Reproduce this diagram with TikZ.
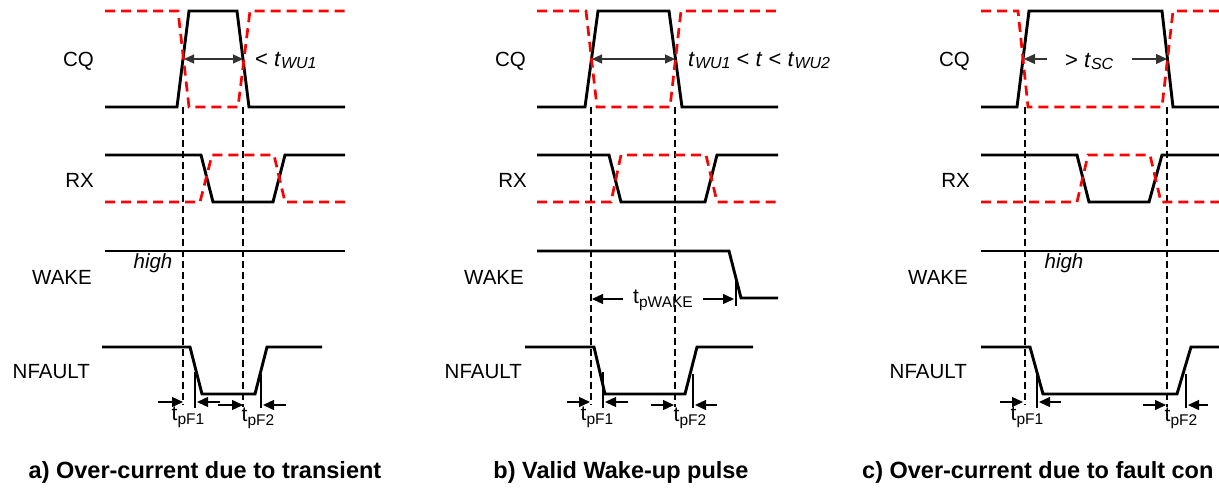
\documentclass[tikz,border=0pt]{standalone}
\usepackage{fontspec}
\setmainfont{Liberation Sans}
\usetikzlibrary{arrows.meta}
\newcommand{\lbfont}{\fontsize{20.5}{22}\selectfont}
\newcommand{\annfont}{\fontsize{22}{24}\selectfont}
\newcommand{\tfont}{\fontsize{21}{23}\selectfont}
\newcommand{\capfont}{\fontsize{23.5}{25}\selectfont\bfseries}
\newcommand{\mysubI}[1]{\raisebox{-2.5pt}{\fontsize{16}{17}\selectfont\itshape #1}}
\newcommand{\mysubT}[1]{\raisebox{-4pt}{\fontsize{15.5}{17}\selectfont #1}}
\begin{document}
\begin{tikzpicture}[x=1pt,y=-1pt,
  sig/.style={line width=2.9pt, black},
  refsig/.style={line width=2.7pt, red, dash pattern=on 10pt off 6pt},
  guide/.style={line width=1.1pt, black, dash pattern=on 7pt off 4pt},
  dim/.style={line width=1.3pt, black, -{Triangle[length=11pt,width=10pt]}},
  dimboth/.style={line width=1.3pt, black!80, {Triangle[length=10pt,width=9pt]}-{Triangle[length=10pt,width=9pt]}},
  tickln/.style={line width=1.1pt, black},
  lbl/.style={anchor=east, inner sep=0pt, font=\lbfont},
  ann/.style={anchor=base west, inner sep=0pt, font=\annfont},
  tlbl/.style={anchor=base, inner sep=0pt, font=\tfont},
  hightxt/.style={anchor=base, inner sep=0pt, font=\lbfont\itshape},
  captxt/.style={anchor=base, inner sep=0pt, font=\capfont}
]
\useasboundingbox (0,0) rectangle (1219,491);

% ================= Panel a =================
\node[lbl] (aCQ) at (94,61) {CQ};
\node[lbl] (aRX) at (94,180) {RX};
\node[lbl] (aWAKE) at (92,277) {WAKE};
\node[lbl] (aNF) at (90,372) {NFAULT};

\draw[guide] (183,107) -- (183,405);
\draw[guide] (243,107) -- (243,407);

\draw[sig] (105,107) -- (177,107) -- (189,11) -- (237,11) -- (249,107) -- (345,107);
\draw[refsig] (105,11) -- (178,11) -- (189,107) -- (238,107) -- (250,11) -- (345,11);
\draw[dimboth] (184,59) -- (243,59);
\node[ann] (aWU) at (255,66) {< \textit{t}\mysubI{WU1}};

\draw[sig] (105,155) -- (201,155) -- (213,202) -- (273,202) -- (285,155) -- (345,155);
\draw[refsig] (105,202) -- (200,202) -- (212,155) -- (274,155) -- (285,202) -- (345,202);

\draw[sig] (105,251) -- (345,251);
\node[hightxt] (ahigh) at (153,268) {high};

\draw[sig] (102,347) -- (190,347) -- (202,394) -- (255,394) -- (267,347) -- (322,347);
\draw[tickln] (195,372) -- (195,408);
\draw[tickln] (261,374) -- (261,408);
\draw[dim] (158,402) -- (183,402);
\draw[dim] (220,402) -- (197,402);
\draw[dim] (218,405) -- (243,405);
\draw[dim] (286,405) -- (263,405);
\node[tlbl] (atF1) at (188,420) {t\mysubT{pF1}};
\node[tlbl] (atF2) at (258,421) {t\mysubT{pF2}};

\node[captxt] (acap) at (205,478) {a) Over-current due to transient};

% ================= Panel b =================
\node[lbl] (bCQ) at (526,61) {CQ};
\node[lbl] (bRX) at (527,180) {RX};
\node[lbl] (bWAKE) at (524,277) {WAKE};
\node[lbl] (bNF) at (522,372) {NFAULT};

\draw[guide] (591,107) -- (591,405);
\draw[guide] (675,107) -- (675,407);

\draw[sig] (537,107) -- (585,107) -- (598,11) -- (669,11) -- (682,107) -- (778,107);
\draw[refsig] (537,11) -- (586,11) -- (597,107) -- (670,107) -- (681,11) -- (778,11);
\draw[dimboth] (592,59) -- (675,59);
\node[ann] (bWU) at (688,66) {\textit{t}\mysubI{WU1} < \textit{t} < \textit{t}\mysubI{WU2}};

\draw[sig] (537,155) -- (609,155) -- (621,202) -- (705,202) -- (717,155) -- (778,155);
\draw[refsig] (537,202) -- (611,202) -- (621,155) -- (706,155) -- (717,202) -- (778,202);

\draw[sig] (537,251) -- (729,251) -- (741,298) -- (778,298);
\draw[tickln] (736,279) -- (736,306);
\draw[dim] (623,299) -- (592,299);
\draw[dim] (703,299) -- (734,299);
\node[tlbl] (btW) at (663,303) {t\mysubT{pWAKE}};

\draw[sig] (525,347) -- (594,347) -- (605,394) -- (685,394) -- (697,347) -- (753,347);
\draw[tickln] (603,372) -- (603,408);
\draw[tickln] (693,374) -- (693,408);
\draw[dim] (567,402) -- (590,402);
\draw[dim] (628,402) -- (605,402);
\draw[dim] (651,405) -- (674,405);
\draw[dim] (717,405) -- (695,405);
\node[tlbl] (btF1) at (597,420) {t\mysubT{pF1}};
\node[tlbl] (btF2) at (690,421) {t\mysubT{pF2}};

\node[captxt] (bcap) at (621,478) {b) Valid Wake-up pulse};

% ================= Panel c =================
\node[lbl] (cCQ) at (970,61) {CQ};
\node[lbl] (cRX) at (970,180) {RX};
\node[lbl] (cWAKE) at (968,277) {WAKE};
\node[lbl] (cNF) at (967,372) {NFAULT};

\draw[guide] (1025,107) -- (1025,405);
\draw[guide] (1167,107) -- (1167,407);

\draw[sig] (981,107) -- (1017,107) -- (1029,11) -- (1162,11) -- (1173,107) -- (1219,107);
\draw[refsig] (981,11) -- (1018,11) -- (1028,107) -- (1162,107) -- (1173,11) -- (1219,11);
\draw[dim, black!80] (1047,59) -- (1024,59);
\draw[dim, black!80] (1132,59) -- (1167,59);
\node[ann] (cSC) at (1065,67) {> \textit{t}\mysubI{SC}};

\draw[sig] (981,155) -- (1077,155) -- (1089,202) -- (1149,202) -- (1162,155) -- (1219,155);
\draw[refsig] (981,202) -- (1077,202) -- (1088,155) -- (1150,155) -- (1161,202) -- (1219,202);

\draw[sig] (981,251) -- (1219,251);
\node[hightxt] (chigh) at (1064,268) {high};

\draw[sig] (981,347) -- (1030,347) -- (1043,394) -- (1177,394) -- (1191,347) -- (1219,347);
\draw[tickln] (1037,372) -- (1037,408);
\draw[tickln] (1186,374) -- (1186,408);
\draw[dim] (1000,402) -- (1023,402);
\draw[dim] (1061,402) -- (1039,402);
\draw[dim] (1143,405) -- (1166,405);
\draw[dim] (1208,405) -- (1188,405);
\node[tlbl] (ctF1) at (1027,420) {t\mysubT{pF1}};
\node[tlbl] (ctF2) at (1181,421) {t\mysubT{pF2}};

\node[captxt, anchor=base west] (ccap) at (862,478) {c) Over-current due to fault con};
\end{tikzpicture}
\end{document}
